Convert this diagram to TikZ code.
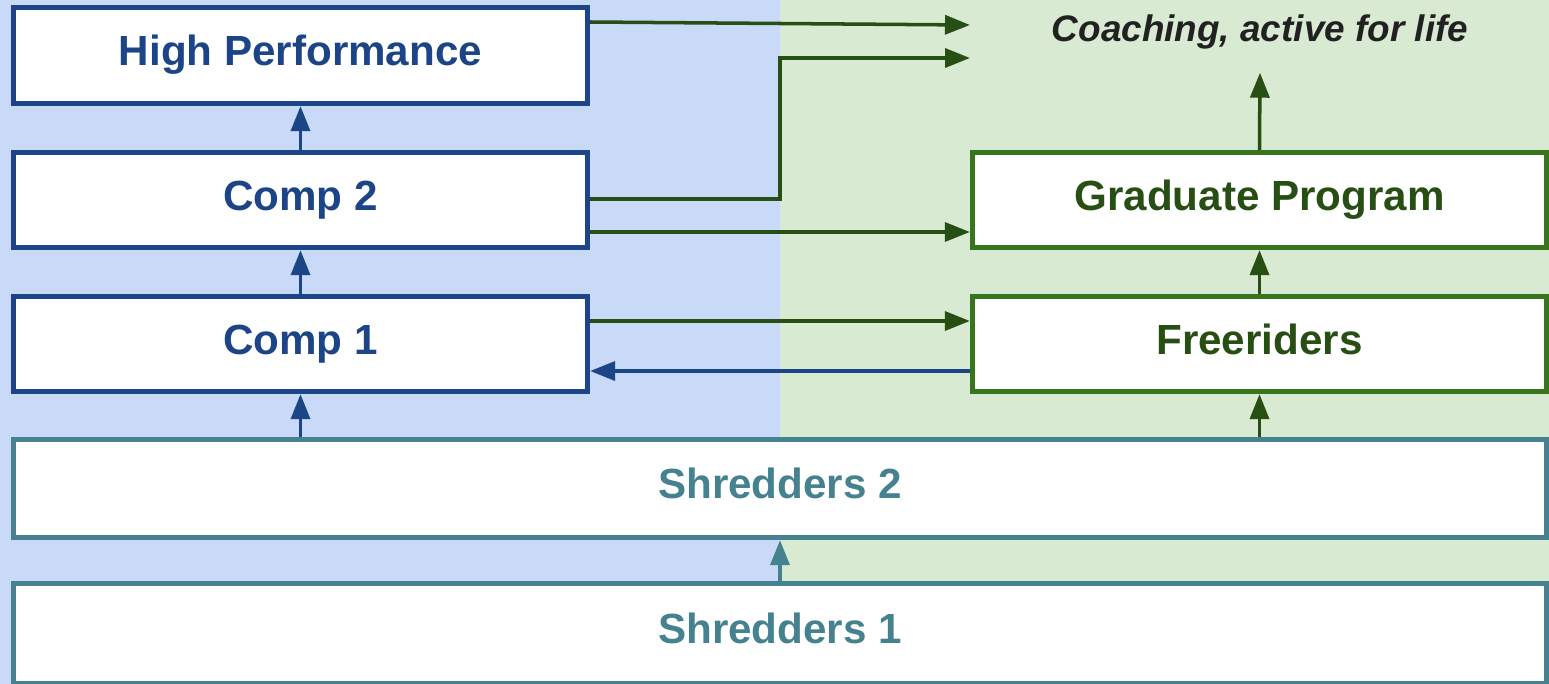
\documentclass[tikz,border=0pt]{standalone}
\usepackage{fontspec}
\setmainfont{Liberation Sans}
\usetikzlibrary{arrows.meta}

\definecolor{paleBlue}{HTML}{C9DAF8}
\definecolor{paleGreen}{HTML}{D9EAD3}
\definecolor{compBlue}{HTML}{1C4587}
\definecolor{freeGreen}{HTML}{38761D}
\definecolor{darkGreen}{HTML}{274E13}
\definecolor{shredTeal}{HTML}{45818E}
\definecolor{coachGray}{HTML}{212121}

\tikzset{
  stage/.style={draw, fill=white, line width=1.5pt, rectangle,
    text height=8.7pt, text depth=3pt,
    font=\fontsize{12}{14}\selectfont\bfseries},
  compbox/.style={stage, draw=compBlue, text=compBlue,
    minimum width=5.74cm, minimum height=0.95cm},
  freebox/.style={stage, draw=freeGreen, text=darkGreen,
    minimum width=5.74cm, minimum height=0.95cm},
  shredbox/.style={stage, draw=shredTeal, text=shredTeal,
    minimum width=15.33cm},
  link/.style={line width=1pt, -{Triangle[length=2.5mm,width=1.9mm]}},
}

\begin{document}
\begin{tikzpicture}
    % two halves of the page
    \fill[paleBlue] (0,0) rectangle (7.80,-6.84);
    \fill[paleGreen] (7.80,0) rectangle (15.49,-6.84);
    \useasboundingbox (0,0) rectangle (15.49,-6.84);

    % left column
    \node[compbox, minimum height=0.96cm] (highPerf) at (3.005,-0.555) {High Performance};
    \node[compbox] (compTwo) at (3.005,-2.00) {Comp 2};
    \node[compbox] (compOne) at (3.005,-3.44) {Comp 1};

    % right column
    \node[freebox] (gradProg) at (12.595,-2.00) {Graduate Program};
    \node[freebox] (freeRiders) at (12.595,-3.44) {Freeriders};
    \node[font=\fontsize{10.5}{12}\selectfont\bfseries\itshape, text=coachGray,
      minimum height=0.80cm, inner sep=0pt] (coaching) at (12.60,-0.32) {Coaching, active for life};
    \coordinate (coachA) at (9.70,-0.25);
    \coordinate (coachB) at (9.70,-0.58);

    % bottom rows
    \node[shredbox, minimum height=0.98cm] (shredTwo) at (7.80,-4.885) {Shredders 2};
    \node[shredbox, minimum height=1.00cm] (shredOne) at (7.80,-6.335) {Shredders 1};

    % upward
    \draw[link, shredTeal] (shredOne.north) -- (shredTwo.south);
    \draw[link, compBlue] (compOne.south |- shredTwo.north) -- (compOne.south);
    \draw[link, compBlue] (compOne.north) -- (compTwo.south);
    \draw[link, compBlue] (compTwo.north) -- (highPerf.south);
    \draw[link, darkGreen] (freeRiders.south |- shredTwo.north) -- (freeRiders.south);
    \draw[link, darkGreen] (freeRiders.north) -- (gradProg.south);
    \draw[link, darkGreen] (gradProg.north) -- (coaching.south);

    % across
    \draw[link, darkGreen] ([yshift=3.35mm]highPerf.east) -- (coachA);
    \draw[link, darkGreen] ([yshift=0.1mm]compTwo.east) -- ++(1.90,0) |- (coachB);
    \draw[link, darkGreen] ([yshift=-3.2mm]compTwo.east) -- ([yshift=-3.2mm]gradProg.west);
    \draw[link, darkGreen] ([yshift=2.3mm]compOne.east) -- ([yshift=2.3mm]freeRiders.west);
    \draw[link, compBlue] ([yshift=-2.7mm]freeRiders.west) -- ([yshift=-2.7mm]compOne.east);
\end{tikzpicture}
\end{document}
